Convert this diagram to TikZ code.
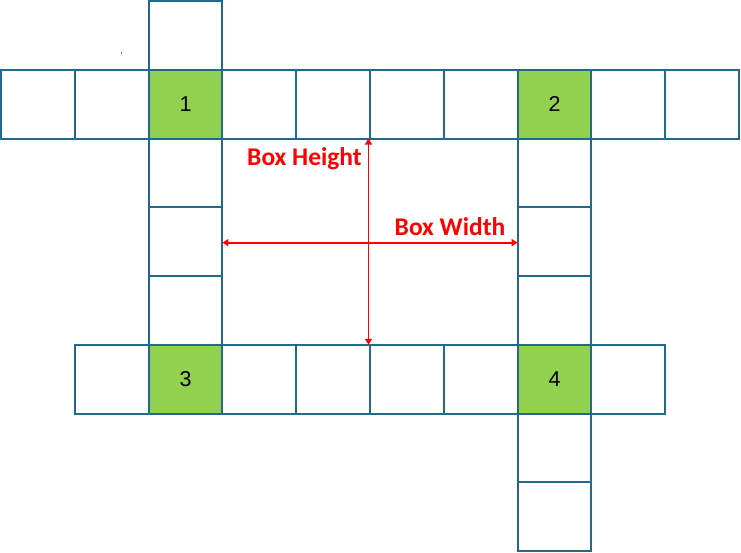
\documentclass[tikz,border=0pt]{standalone}
\usepackage{fontspec}
\setmainfont{Liberation Sans}
\newfontfamily\carlitofont{Carlito}
\usetikzlibrary{arrows.meta,calc}
\definecolor{gridline}{RGB}{35,105,140}
\definecolor{cellgreen}{RGB}{146,208,80}
\definecolor{labelred}{RGB}{255,0,0}
\begin{document}
\begin{tikzpicture}[x=1pt,y=-1pt,
  cell/.style={draw=gridline,line width=2pt,minimum width=73.8pt,minimum height=68.75pt,inner sep=0pt,outer sep=0pt,font=\fontsize{21.5}{24}\selectfont},
  greencell/.style={cell,fill=cellgreen},
  dimarrow/.style={draw=labelred,line width=1.8pt,{Triangle[length=6pt,width=7pt]}-{Triangle[length=6pt,width=7pt]}},
  dimlabel/.style={text=labelred,font=\carlitofont\bfseries\fontsize{25.5}{28}\selectfont,inner sep=0pt,anchor=base}]
\useasboundingbox (0,0) rectangle (741,553);
\def\cx#1{37.9+73.8*#1}
\def\cy#1{35.4+68.75*#1}
% row 1
\foreach \c in {0,1,3,4,5,6,8,9}{\node[cell] (c-\c-1) at ({\cx{\c}},{\cy{1}}) {};}
% row 5
\foreach \c in {1,3,4,5,6,8}{\node[cell] (c-\c-5) at ({\cx{\c}},{\cy{5}}) {};}
% column 2
\foreach \r in {0,2,3,4}{\node[cell] (c-2-\r) at ({\cx{2}},{\cy{\r}}) {};}
% column 7
\foreach \r in {2,3,4,6,7}{\node[cell] (c-7-\r) at ({\cx{7}},{\cy{\r}}) {};}
% green numbered cells
\node[greencell] (c-2-1) at ({\cx{2}},{\cy{1}}) {1};
\node[greencell] (c-7-1) at ({\cx{7}},{\cy{1}}) {2};
\node[greencell] (c-2-5) at ({\cx{2}},{\cy{5}}) {3};
\node[greencell] (c-7-5) at ({\cx{7}},{\cy{5}}) {4};
% dimension arrows
\coordinate (vtop) at ($(c-4-1.south east)+(-1.5,0)$);
\coordinate (vbot) at ($(c-4-5.north east)+(-1.5,0)$);
\draw[dimarrow] (vtop) -- (vbot);
\coordinate (hl) at ($(c-2-3.east)+(0,1)$);
\coordinate (hr) at ($(c-7-3.west)+(0,1)$);
\draw[dimarrow] (hl) -- (hr);
\node[dimlabel] (bh) at (304.5,165.7) {Box Height};
\node[dimlabel] (bw) at (450,236) {Box Width};
% stray dot
\fill[black] (121.5,53) circle (0.7pt);
\end{tikzpicture}
\end{document}
